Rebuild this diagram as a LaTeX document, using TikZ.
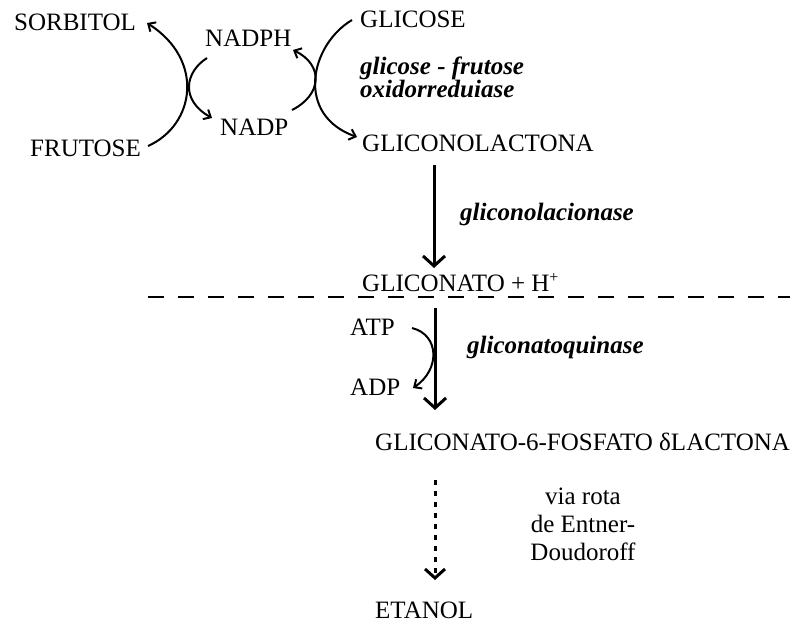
\documentclass[tikz,border=0pt]{standalone}
\usepackage{fontspec}
\setmainfont{Liberation Serif}
\usetikzlibrary{arrows.meta}
\begin{document}
\begin{tikzpicture}[x=1pt,y=-1pt,
  lbl/.style={inner sep=0pt,anchor=base west,font=\fontsize{25}{30}\selectfont},
  enz/.style={lbl,font=\fontsize{25}{28}\selectfont\bfseries\itshape},
  swirl/.style={line width=2pt,-{Straight Barb[length=6pt,width=11pt,line width=2pt]}},
  flow/.style={line width=3pt,-{Straight Barb[length=10pt,width=22pt,line width=3pt]}},
  split/.style={line width=2pt,dash pattern=on 16pt off 14pt}]
\useasboundingbox (0,0) rectangle (790,623);
% compounds
\node[lbl] (sorbitol) at (14,31) {SORBITOL};
\node[lbl] (nadph) at (205,47) {NADPH};
\node[lbl] (glicose) at (360,28) {GLICOSE};
\node[lbl] (frutose) at (30,157) {FRUTOSE};
\node[lbl] (nadp) at (220,136) {NADP};
\node[lbl] (lactona) at (362,152) {GLICONOLACTONA};
\node[lbl] (gliconato) at (362,291) {GLICONATO + H\raisebox{9pt}{\fontsize{16}{16}\selectfont +}};
\node[lbl] (atp) at (350,335) {ATP};
\node[lbl] (adp) at (350,395) {ADP};
\node[lbl] (fosfato) at (375,450) {GLICONATO-6-FOSFATO δLACTONA};
\node[lbl] (etanol) at (375,618) {ETANOL};
% enzymes
\node[enz] (gfo1) at (360,75) {glicose - frutose};
\node[enz] (gfo2) at (360,98) {oxidorreduiase};
\node[enz] (lacase) at (460,220) {gliconolacionase};
\node[enz] (quinase) at (467,353) {gliconatoquinase};
% multi-line label: base anchor sits on its last line
\node[lbl,anchor=base,align=center,font=\fontsize{25}{28}\selectfont] (via) at (583,560)
  {via rota\\de Entner-\\Doudoroff};
% curved reaction couples
\coordinate (fr) at (148,146);
\coordinate (so) at (147,23);
\coordinate (nh) at (207,58);
\coordinate (np) at (212,118);
\coordinate (gl) at (352,20);
\coordinate (gn) at (357,137);
\coordinate (np2) at (292,110);
\coordinate (nh2) at (293,50);
\draw[swirl] (fr) .. controls (195,125) and (205,60) .. (so);
\draw[swirl] (nh) .. controls (185,72) and (180,100) .. (np);
\draw[swirl] (gl) .. controls (310,45) and (295,115) .. (gn);
\draw[swirl] (np2) .. controls (322,95) and (324,65) .. (nh2);
% main pathway
\coordinate (a1s) at (434,165);
\coordinate (a1e) at (434,268);
\draw[flow] (a1s) -- (a1e);
\draw[split] (148,297) -- (790,297);
\coordinate (a2s) at (435,308);
\coordinate (a2e) at (435,410);
\draw[flow] (a2s) -- (a2e);
\coordinate (at) at (412,328);
\coordinate (ad) at (413,388);
\draw[swirl] (at) .. controls (440,335) and (440,370) .. (ad);
\coordinate (a3s) at (435,480);
\coordinate (a3e) at (435,580);
\draw[line width=3pt,dash pattern=on 5pt off 6pt,-{Straight Barb[length=9pt,width=20pt,line width=3pt]}] (a3s) -- (a3e);
\end{tikzpicture}
\end{document}
